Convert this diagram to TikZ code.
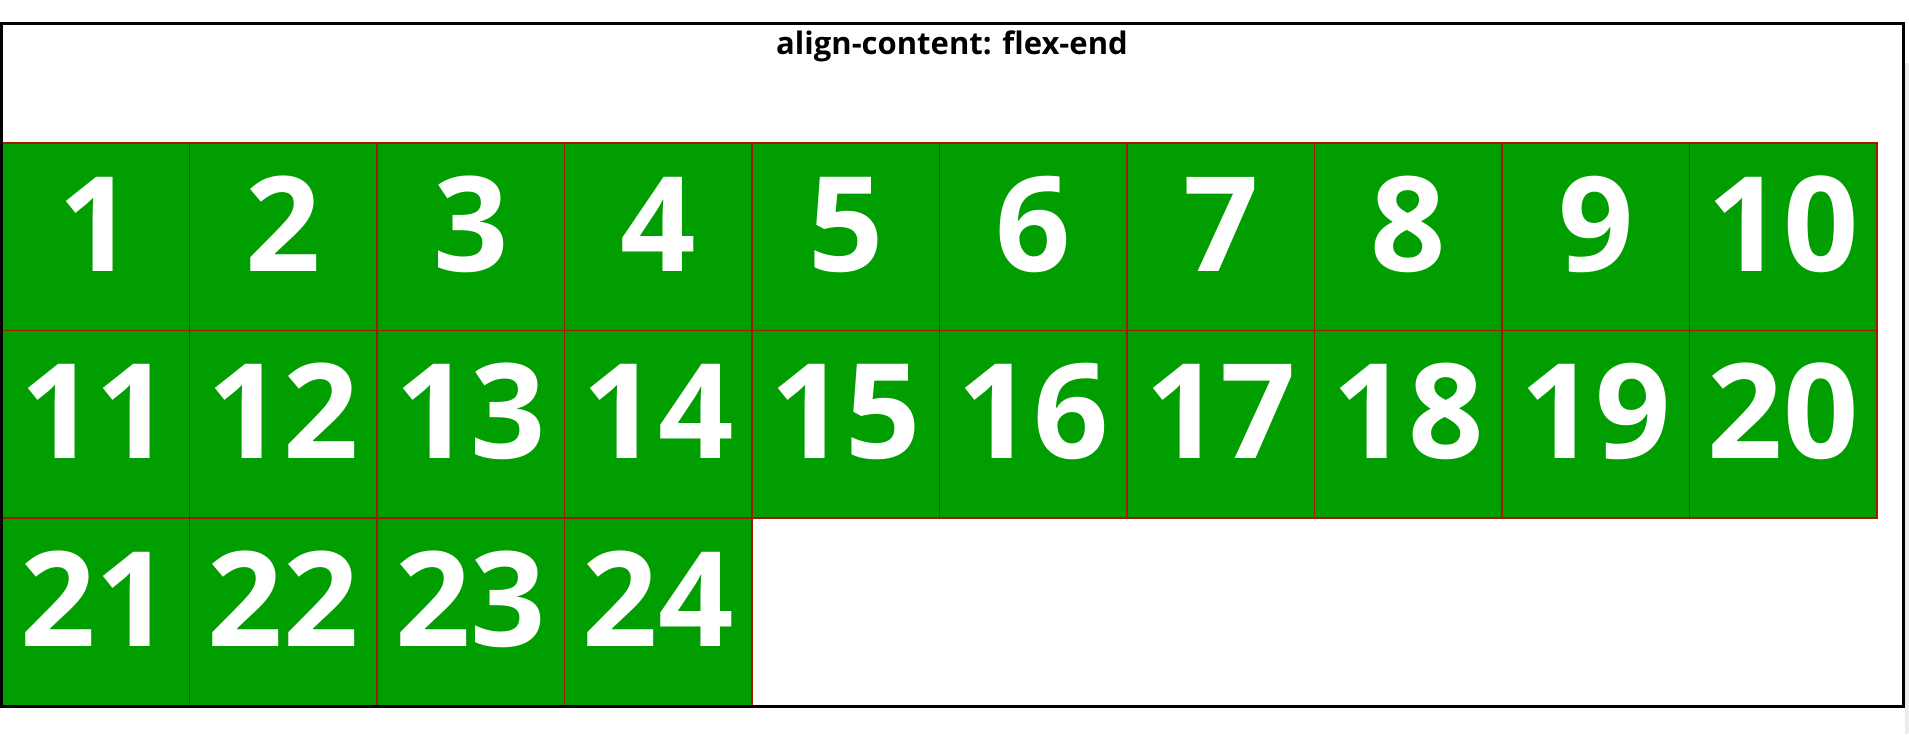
\documentclass[tikz,border=0pt]{standalone}
\usepackage{fontspec}
\setmainfont{Open Sans}
\definecolor{boxgreen}{RGB}{0,158,0}
\definecolor{boxline}{RGB}{165,25,0}
\definecolor{scrollgrey}{RGB}{236,236,236}
\begin{document}
\begin{tikzpicture}[x=1pt,y=-1pt,
  cell/.style={draw=boxline,line width=1.3pt,fill=boxgreen,minimum size=187.5pt,inner sep=0pt,
    text=white,font=\fontsize{132}{132}\selectfont\bfseries,text height=68.5pt,text depth=0pt},
  titletext/.style={font=\fontsize{31}{36}\selectfont\bfseries,anchor=base,inner sep=0pt}]
\useasboundingbox (0,0) rectangle (1909,734);
\fill[white] (0,0) rectangle (1909,734);
\fill[scrollgrey] (1905,63) rectangle (1909,734);
\node[titletext] (title) at (952,54) {align-content: flex-end};
\foreach \n in {1,...,24}{
  \pgfmathtruncatemacro{\col}{mod(\n-1,10)}
  \pgfmathtruncatemacro{\row}{int((\n-1)/10)}
  \node[cell] (c\n) at ({2+187.5*\col+93.75},{143+187.5*\row+93.75}) {\n};
}
\draw[black,line width=2.8pt] (1.4,23.4) rectangle (1903.6,706.8);
\end{tikzpicture}
\end{document}
